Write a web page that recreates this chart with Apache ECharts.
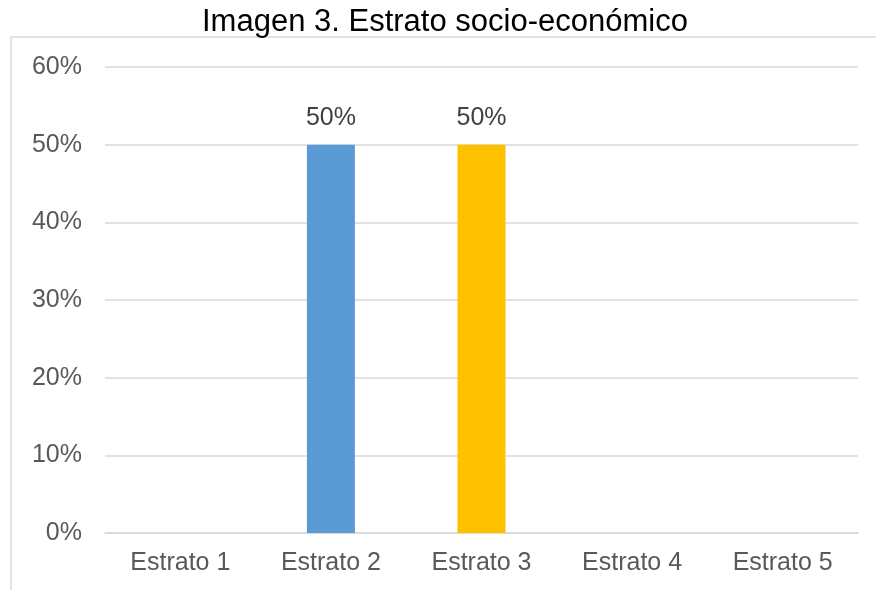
<!DOCTYPE html>
<html>
<head>
<meta charset="utf-8">
<script src="https://cdn.jsdelivr.net/npm/echarts@6/dist/echarts.min.js"></script>
<style>
  html, body { margin: 0; padding: 0; background: #fff; }
  #chart { width: 876px; height: 590px; }
</style>
</head>
<body>
<div id="chart"></div>
<script>
// datos
var categorias = ['Estrato 1', 'Estrato 2', 'Estrato 3', 'Estrato 4', 'Estrato 5'];
var porcentajes = [0, 50, 50, 0, 0];
var colores = ['#5B9BD5', '#5B9BD5', '#FFC000', '#5B9BD5', '#5B9BD5'];
var ticksY = [0, 10, 20, 30, 40, 50, 60];

var chart = echarts.init(document.getElementById('chart'));

var option = {
    animation: false,
    textStyle: { fontFamily: 'Liberation Sans, Arial, sans-serif' },
    title: {
        text: 'Imagen 3. Estrato socio-económico',
        left: 197,
        top: 2,
        textStyle: { fontSize: 31, fontWeight: 'normal', color: '#000' }
    },
    // marco del gráfico
    graphic: [{
        type: 'rect',
        z: -1,
        shape: { x: 11, y: 37, width: 900, height: 600 },
        style: { fill: 'transparent', stroke: '#d9d9d9', lineWidth: 1.5 }
    }],
    grid: {
        left: 105,
        right: 18,
        top: 67,
        bottom: 57
    },
    xAxis: {
        type: 'category',
        data: categorias,
        axisTick: { show: false },
        axisLine: { lineStyle: { color: '#d9d9d9', width: 1.5 } },
        axisLabel: { fontSize: 25, color: '#595959', margin: 18 }
    },
    yAxis: {
        type: 'value',
        min: ticksY[0],
        max: ticksY[ticksY.length - 1],
        interval: 10,
        axisLine: { show: false },
        axisTick: { show: false },
        splitLine: { lineStyle: { color: '#d9d9d9', width: 1.5 } },
        axisLabel: { fontSize: 25, color: '#595959', margin: 23, formatter: '{value}%' }
    },
    series: [{
        type: 'bar',
        barWidth: 48,
        data: porcentajes.map(function (v, i) {
            return { value: v, itemStyle: { color: colores[i] } };
        }),
        label: {
            show: true,
            position: 'top',
            distance: 14,
            fontSize: 25,
            color: '#404040',
            formatter: function (p) { return p.value > 0 ? p.value + '%' : ''; }
        }
    }]
};

chart.setOption(option);
</script>
</body>
</html>
